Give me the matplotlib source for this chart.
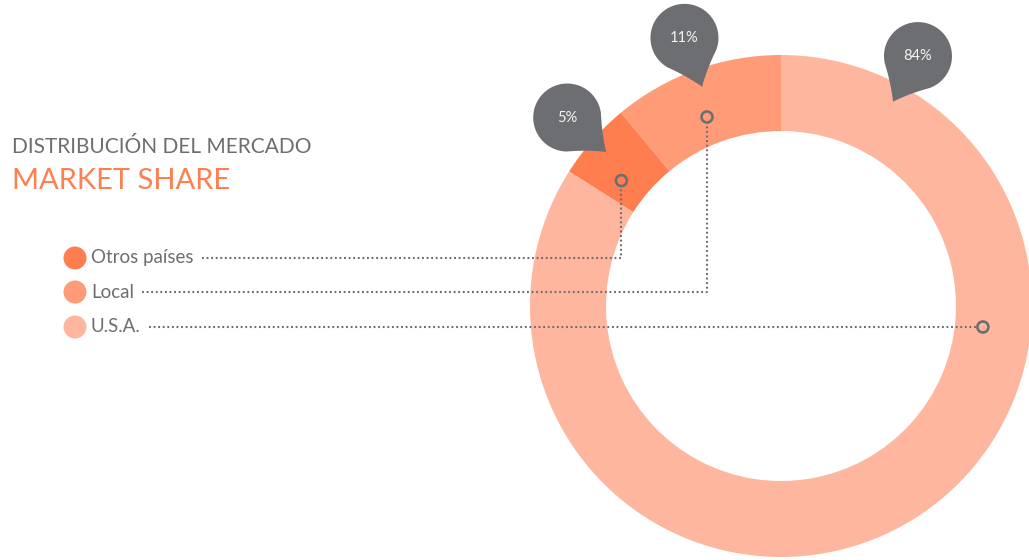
import numpy as np
import matplotlib
matplotlib.use('Agg')
import matplotlib.pyplot as plt
from matplotlib.patches import Polygon, Circle

# data
labels = ['Otros países', 'Local', 'U.S.A.']
shares = [5, 11, 84]
colors = ['#FF7E4F', '#FF9B76', '#FFB69E']
pin_text = ['5%', '11%', '84%']

GREY = '#6D6E71'
W, H = 1029, 560
plt.rcParams['font.family'] = ['Lato', 'DejaVu Sans']

fig = plt.figure(figsize=(W / 100, H / 100), dpi=100)
ax = fig.add_axes([0, 0, 1, 1])

# donut: Local first from the top, then Otros, then U.S.A., counter-clockwise
order = [1, 0, 2]
cx, cy = 781, H - 306
R, ring = 251, 76
wedges, _ = ax.pie([shares[i] for i in order], colors=[colors[i] for i in order],
                   startangle=90, counterclock=True, center=(cx, cy), radius=R,
                   wedgeprops=dict(width=ring, linewidth=0))
wedge_of = {order[k]: w for k, w in enumerate(wedges)}
ax.set_xlim(0, W)
ax.set_ylim(0, H)
ax.set_aspect('equal')
ax.axis('off')


def angle_in(i, frac):
    w = wedge_of[i]
    return np.deg2rad(w.theta1 + frac * (w.theta2 - w.theta1))


def teardrop(tip, ang, d=52, r=34):
    beta = np.arccos(r / d)
    arc = np.linspace(np.pi + beta, 3 * np.pi - beta, 80)
    body = np.c_[d + r * np.cos(arc), r * np.sin(arc)]
    t = np.linspace(0, 1, 20)[:, None]
    p_a, p_b = body[0], body[-1]
    c_a = p_a / 2 * np.array([1, 0.8])
    c_b = p_b / 2 * np.array([1, 0.8])
    side_a = 2 * (1 - t) * t * c_a + t ** 2 * p_a
    side_b = (1 - t) ** 2 * p_b + 2 * (1 - t) * t * c_b
    pts = np.vstack([side_a, body, side_b])
    rot = np.array([[np.cos(ang), -np.sin(ang)], [np.sin(ang), np.cos(ang)]])
    pts = pts @ rot.T + tip
    center = np.array([d, 0]) @ rot.T + tip
    return pts, center


# titles
ax.text(12, H - 153, 'DISTRIBUCIÓN DEL MERCADO', fontsize=15, color=GREY,
        va='baseline', ha='left')
ax.text(12, H - 189, 'MARKET SHARE', fontsize=21, color='#FF7F50',
        va='baseline', ha='left')

# legend rows
row_y = [H - 258, H - 292, H - 327]
texts = []
for i, lab in enumerate(labels):
    ax.add_patch(Circle((75, row_y[i]), 11.5, color=colors[i], lw=0))
    texts.append(ax.text(91, row_y[i], lab, fontsize=13.5, color=GREY,
                         va='center', ha='left'))

fig.canvas.draw()
renderer = fig.canvas.get_renderer()
inv = ax.transData.inverted()

pin_frac = [0.5, 0.5, 0.905]
anchor_frac = [0.68, 0.54, None]
r_anchor = 203
mr = 5.5
for i in range(3):
    bb = texts[i].get_window_extent(renderer)
    x0 = inv.transform((bb.x1, bb.y0))[0] + 8
    y = row_y[i]
    if anchor_frac[i] is None:
        ax_x = cx + np.sqrt(r_anchor ** 2 - (y - cy) ** 2)
        ax_y = y
        ax.plot([x0, ax_x - mr], [y, y], color=GREY, lw=1.5,
                linestyle=(0, (0.9, 1.3)))
    else:
        a = angle_in(i, anchor_frac[i])
        ax_x = cx + r_anchor * np.cos(a)
        ax_y = cy + r_anchor * np.sin(a)
        ax.plot([x0, ax_x, ax_x], [y, y, ax_y - mr], color=GREY, lw=1.5,
                linestyle=(0, (0.9, 1.3)))
    ax.add_patch(Circle((ax_x, ax_y), mr, facecolor='none', edgecolor=GREY, lw=1.9))

    # pins
    a = angle_in(i, pin_frac[i])
    tip = np.array([cx + 233 * np.cos(a), cy + 233 * np.sin(a)])
    pts, c = teardrop(tip, a)
    ax.add_patch(Polygon(pts, closed=True, facecolor=GREY, edgecolor='none'))
    ax.text(c[0], c[1], pin_text[i], fontsize=10.5, color='#F4F4F4',
            ha='center', va='center')

fig.savefig('out.png', dpi=100, facecolor='white')
